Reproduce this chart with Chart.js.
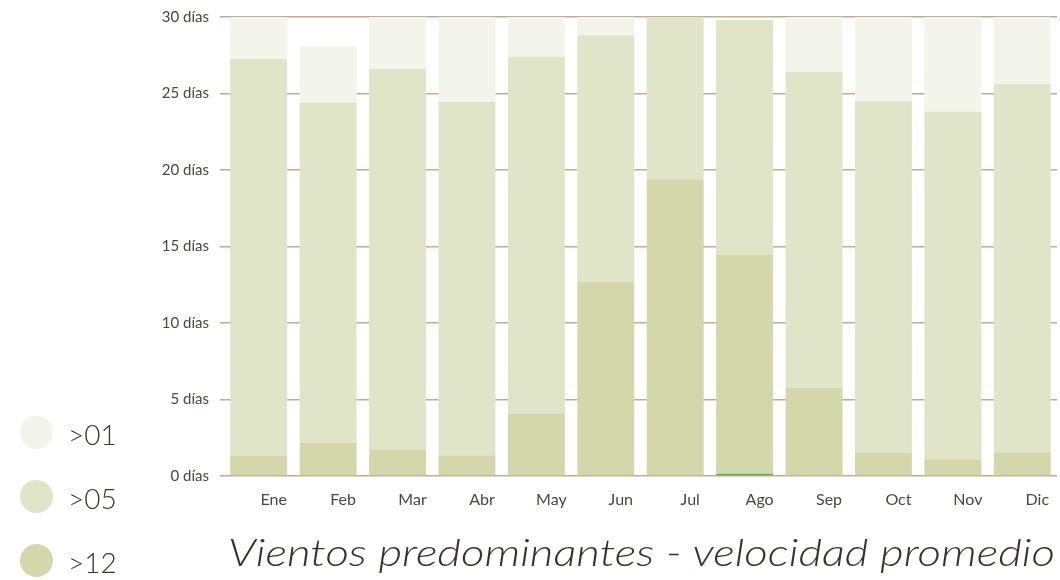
<!DOCTYPE html>
<html lang="es">
<head>
<meta charset="utf-8">
<script src="https://cdn.jsdelivr.net/npm/chart.js@4"></script>
<style>
  html, body { margin: 0; padding: 0; background: #fff; }
  #wrap { position: relative; width: 1060px; height: 580px; overflow: hidden; }
  #chart { position: absolute; left: 0; top: 0; }
  #legend { position: absolute; left: 20px; top: 416px; }
  .item { position: relative; height: 64px; }
  .dot { position: absolute; left: 0; width: 33px; height: 33px; border-radius: 50%; }
  .lbl { position: absolute; left: 48px; top: 1px; font: 300 28px Lato, "Open Sans", sans-serif; color: #3d342a; }
  #title { position: absolute; left: 228px; top: 528px; white-space: nowrap;
           font: italic 300 38px Lato, "Open Sans", sans-serif; color: #3a3025; transform-origin: 0 0; }
</style>
</head>
<body>
<div id="wrap">
  <canvas id="chart" width="1060" height="580"></canvas>
  <div id="legend"></div>
  <div id="title">Vientos predominantes - velocidad promedio</div>
</div>
<script>
const months = ['Ene', 'Feb', 'Mar', 'Abr', 'May', 'Jun', 'Jul', 'Ago', 'Sep', 'Oct', 'Nov', 'Dic'];

// days per month by wind speed band (km/h)
const over20 = [0, 0, 0, 0, 0, 0, 0, 0.15, 0, 0, 0, 0];
const over12 = [1.3, 2.15, 1.75, 1.35, 4.05, 12.7, 19.4, 14.3, 5.75, 1.5, 1.1, 1.55];
const over05 = [25.95, 22.25, 24.85, 23.1, 23.35, 16.1, 10.6, 15.35, 20.65, 23.0, 22.7, 24.05];
const over01 = [2.75, 3.7, 3.4, 5.55, 2.6, 1.2, 0, 0, 3.6, 5.5, 6.2, 4.4];

const yTicks = [0, 5, 10, 15, 20, 25, 30];

const inkColor = '#4f4538';
const gridColor = '#c6ac88';

const bands = [
  { label: '>20', data: over20, color: '#4cb84c', legend: false },
  { label: '>12', data: over12, color: '#d4d7aa', legend: true },
  { label: '>05', data: over05, color: '#e0e4c8', legend: true },
  { label: '>01', data: over01, color: '#f3f4ea', legend: true }
];

const ctx = document.getElementById('chart').getContext('2d');

const chart = new Chart(ctx, {
  type: 'bar',
  data: {
    labels: months,
    datasets: bands.map(b => ({
      label: b.label,
      data: b.data,
      backgroundColor: b.color,
      borderWidth: 0,
      barPercentage: 0.82,
      categoryPercentage: 1
    }))
  },
  options: {
    responsive: false,
    animation: false,
    layout: { padding: { top: 17, right: 3, bottom: 0, left: 0 } },
    plugins: {
      legend: { display: false },
      tooltip: { enabled: false }
    },
    scales: {
      x: {
        stacked: true,
        grid: { display: false },
        border: { display: false },
        ticks: {
          color: inkColor,
          font: { family: 'Lato, "Open Sans", sans-serif', size: 16 },
          padding: 6,
          labelOffset: 15
        },
        afterFit: scale => { scale.height = 104; }
      },
      y: {
        stacked: true,
        min: 0,
        max: 30,
        afterBuildTicks: scale => { scale.ticks = yTicks.map(v => ({ value: v })); },
        grid: { color: gridColor, lineWidth: 1.6, tickLength: 4 },
        border: { display: false },
        ticks: {
          color: inkColor,
          font: { family: 'Lato, "Open Sans", sans-serif', size: 15 },
          padding: 11,
          callback: v => v + ' días'
        },
        afterFit: scale => {
          scale.width = 224;
          scale.paddingTop = 0;
          scale.paddingBottom = 0;
        }
      }
    }
  }
});

// legend: the three bands, lightest on top
const legend = document.getElementById('legend');
bands.filter(b => b.legend).reverse().forEach(b => {
  const item = document.createElement('div');
  item.className = 'item';
  item.innerHTML = '<span class="dot" style="background:' + b.color + '"></span><span class="lbl">' + b.label + '</span>';
  legend.appendChild(item);
});

// stretch the caption to span the plot width
const title = document.getElementById('title');
const w = title.getBoundingClientRect().width;
title.style.transform = 'scaleX(' + (827 / w) + ')';
</script>
</body>
</html>
